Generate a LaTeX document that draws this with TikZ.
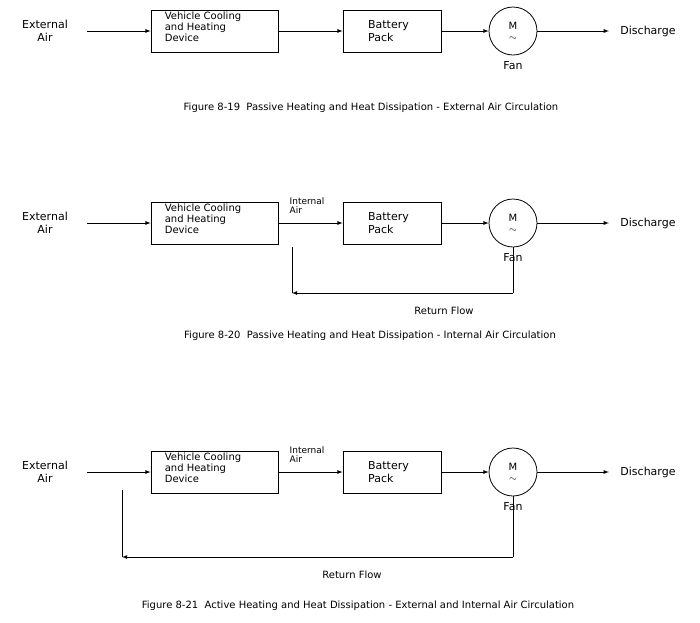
\documentclass[tikz,border=0pt]{standalone}
\usepackage{fontspec}
\setmainfont{DejaVu Sans}
\usetikzlibrary{positioning}

\tikzset{
  lbl/.style={font=\fontsize{11}{13}\selectfont, align=center},
  boxtxt/.style={font=\fontsize{10}{11}\selectfont, align=left, inner sep=0pt},
  blk/.style={draw, thick, minimum height=42pt, inner sep=0pt},
  fan/.style={draw, thick, circle, minimum size=48pt, inner sep=0pt},
  flow/.style={->, thick, >=latex},
  figcap/.style={font=\fontsize{10}{12}\selectfont},
  small/.style={font=\fontsize{9}{9}\selectfont, align=left, inner sep=0pt}
}

% one row of the diagram, #1 = suffix, #2 = centre line
\newcommand{\flowrow}[2]{
  \node[lbl] (ext#1) at (45,#2) {External\\Air};
  \node[blk, minimum width=127pt] (dev#1) at (214.5,#2) {};
  \begin{scope}
    \clip (dev#1.north west) rectangle (dev#1.south east);
    \node[boxtxt, anchor=north west] at ([xshift=14pt,yshift=-2pt]dev#1.north west)
      {Vehicle Cooling\\and Heating\\Device};
  \end{scope}
  \node[blk, minimum width=98pt] (bat#1) at (392,#2) {};
  \node[lbl, anchor=west, align=left] at ([xshift=22pt]bat#1.west) {Battery\\Pack};
  \node[fan] (fan#1) at (513,#2) {};
  \node[lbl, font=\fontsize{10}{11}\selectfont] at (513,#2) {M\\$\sim$};
  \node[lbl] (fanl#1) at (513,#2+35) {Fan};
  \node[lbl] (dis#1) at (648,#2) {Discharge};
  \coordinate (in#1) at (87,#2);
  \draw[flow] (in#1) -- (dev#1.west);
  \draw[flow] (dev#1.east) -- (bat#1.west);
  \draw[flow] (bat#1.east) -- (fan#1.west);
  \draw[flow] (fan#1.east) -- ([xshift=-8pt]dis#1.west);
}

\begin{document}
\begin{tikzpicture}[x=1pt, y=-1pt]
  \useasboundingbox (0,0) rectangle (700,622);

  % external air circulation
  \flowrow{a}{31}
  \node[figcap] (capa) at (371,108) {Figure 8-19\ \ Passive Heating and Heat Dissipation - External Air Circulation};

  % internal air circulation
  \flowrow{b}{223}
  \node[small] (inb) at (307,206) {Internal\\Air};
  \coordinate (ra) at (513,293);
  \coordinate (rb) at (292,293);
  \coordinate (rc) at (292,247);
  \draw[thick] (fanb.south) -- (ra);
  \draw[flow] (ra) -- (rb);
  \draw[thick] (rc) -- (rb);
  \node[figcap] (retb) at (444,311) {Return Flow};
  \node[figcap] (capb) at (370,336) {Figure 8-20\ \ Passive Heating and Heat Dissipation - Internal Air Circulation};

  % external and internal air circulation
  \flowrow{c}{472}
  \node[small] (inc) at (307,455) {Internal\\Air};
  \coordinate (sa) at (513,557);
  \coordinate (sb) at (122,557);
  \coordinate (sc) at (122,490);
  \draw[thick] (fanc.south) -- (sa);
  \draw[flow] (sa) -- (sb);
  \draw[thick] (sc) -- (sb);
  \node[figcap] (retc) at (352,575) {Return Flow};
  \node[figcap] (capc) at (358,606) {Figure 8-21\ \ Active Heating and Heat Dissipation - External and Internal Air Circulation};
\end{tikzpicture}
\end{document}
